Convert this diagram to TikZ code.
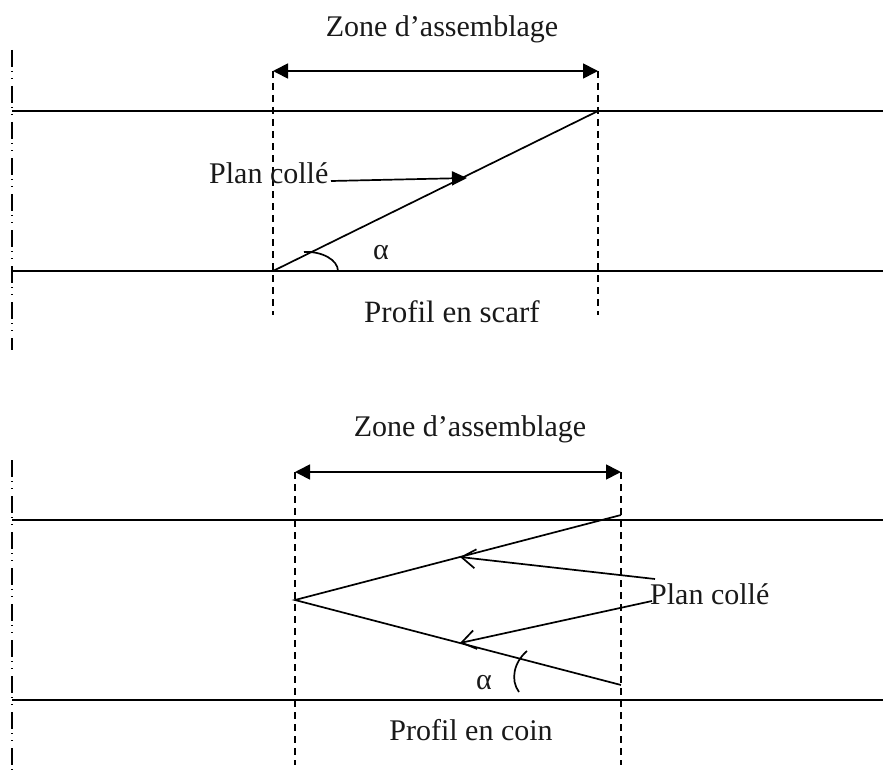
\documentclass[tikz,border=0pt]{standalone}
\usepackage{fontspec}
\setmainfont{Liberation Serif}
\usetikzlibrary{arrows.meta}
\tikzset{
  lbl/.style={inner sep=0pt,font=\fontsize{30}{33}\selectfont,text=black!90},
  wide/.style={inner sep=0pt,font=\fontsize{31}{33}\selectfont,text=black!90},
  line/.style={draw=black,line width=1.7pt},
  guide/.style={draw=black,line width=1.5pt,dash pattern=on 7pt off 5pt},
  axisline/.style={draw=black,line width=1.5pt,dash pattern=on 17pt off 4pt on 1pt off 6pt on 1pt off 7pt},
  dim/.style={line,{Triangle[length=15pt,width=15pt]}-{Triangle[length=15pt,width=15pt]}},
  solidtip/.style={line,-{Triangle[length=15pt,width=14pt]}},
  opentip/.style={line,-{Straight Barb[length=14pt,width=19pt]}}
}
\begin{document}
\begin{tikzpicture}[x=1pt,y=-1pt]
\useasboundingbox (0,0) rectangle (883,773);
% coordinates: upper profile
\coordinate (ax1a) at (12,50); \coordinate (ax1b) at (12,350);
\coordinate (t1l) at (12,111); \coordinate (t1r) at (883,111);
\coordinate (b1l) at (12,271); \coordinate (b1r) at (883,271);
\coordinate (g1a) at (273,71); \coordinate (g1b) at (273,315);
\coordinate (g2a) at (598,71); \coordinate (g2b) at (598,315);
\coordinate (s1) at (273,271); \coordinate (s2) at (598,111);
\coordinate (lead1) at (331,181); \coordinate (lead1e) at (467,178);
% coordinates: lower profile
\coordinate (ax2a) at (12,460); \coordinate (ax2b) at (12,770);
\coordinate (t2l) at (12,520); \coordinate (t2r) at (883,520);
\coordinate (b2l) at (12,700); \coordinate (b2r) at (883,700);
\coordinate (g3a) at (295,472); \coordinate (g3b) at (295,765);
\coordinate (g4a) at (621,472); \coordinate (g4b) at (621,765);
\coordinate (w0) at (295,600); \coordinate (w1) at (621,515); \coordinate (w2) at (621,685);
\coordinate (lead2) at (655,579); \coordinate (lead2e) at (460,557);
\coordinate (lead3) at (652,601); \coordinate (lead3e) at (460,643);

\draw[axisline] (ax1a) -- (ax1b);
\draw[axisline] (ax2a) -- (ax2b);
\draw[line] (t1l) -- (t1r);
\draw[line] (b1l) -- (b1r);
\draw[line] (t2l) -- (t2r);
\draw[line] (b2l) -- (b2r);
\draw[guide] (g1a) -- (g1b);
\draw[guide] (g2a) -- (g2b);
\draw[guide] (g3a) -- (g3b);
\draw[guide] (g4a) -- (g4b);
\draw[dim] (g1a) -- (g2a);
\draw[dim] (g3a) -- (g4a);
\draw[line] (s1) -- (s2);
\draw[line] (w1) -- (w0) -- (w2);
% angle marks
\draw[line] (304,252) .. controls (322,251) and (338,260) .. (338,271);
\draw[line] (527,651) .. controls (514,662) and (510,680) .. (519,692);

\node[lbl] (z1) at (442,29) {Zone d’assemblage};
\node[lbl] (z2) at (470,429) {Zone d’assemblage};
\node[lbl,anchor=west] (pc1) at (209,173) {Plan collé};
\node[lbl,anchor=west] (pc2) at (650,594) {Plan collé};
\node[lbl] (a1) at (381,253) {α};
\node[lbl] (a2) at (484,683) {α};
\node[wide] (p1) at (452,312) {Profil en scarf};
\node[lbl] (p2) at (471,730) {Profil en coin};

\draw[solidtip] (lead1) -- (lead1e);
\draw[opentip] (lead2) -- (lead2e);
\draw[opentip] (lead3) -- (lead3e);
\end{tikzpicture}
\end{document}
